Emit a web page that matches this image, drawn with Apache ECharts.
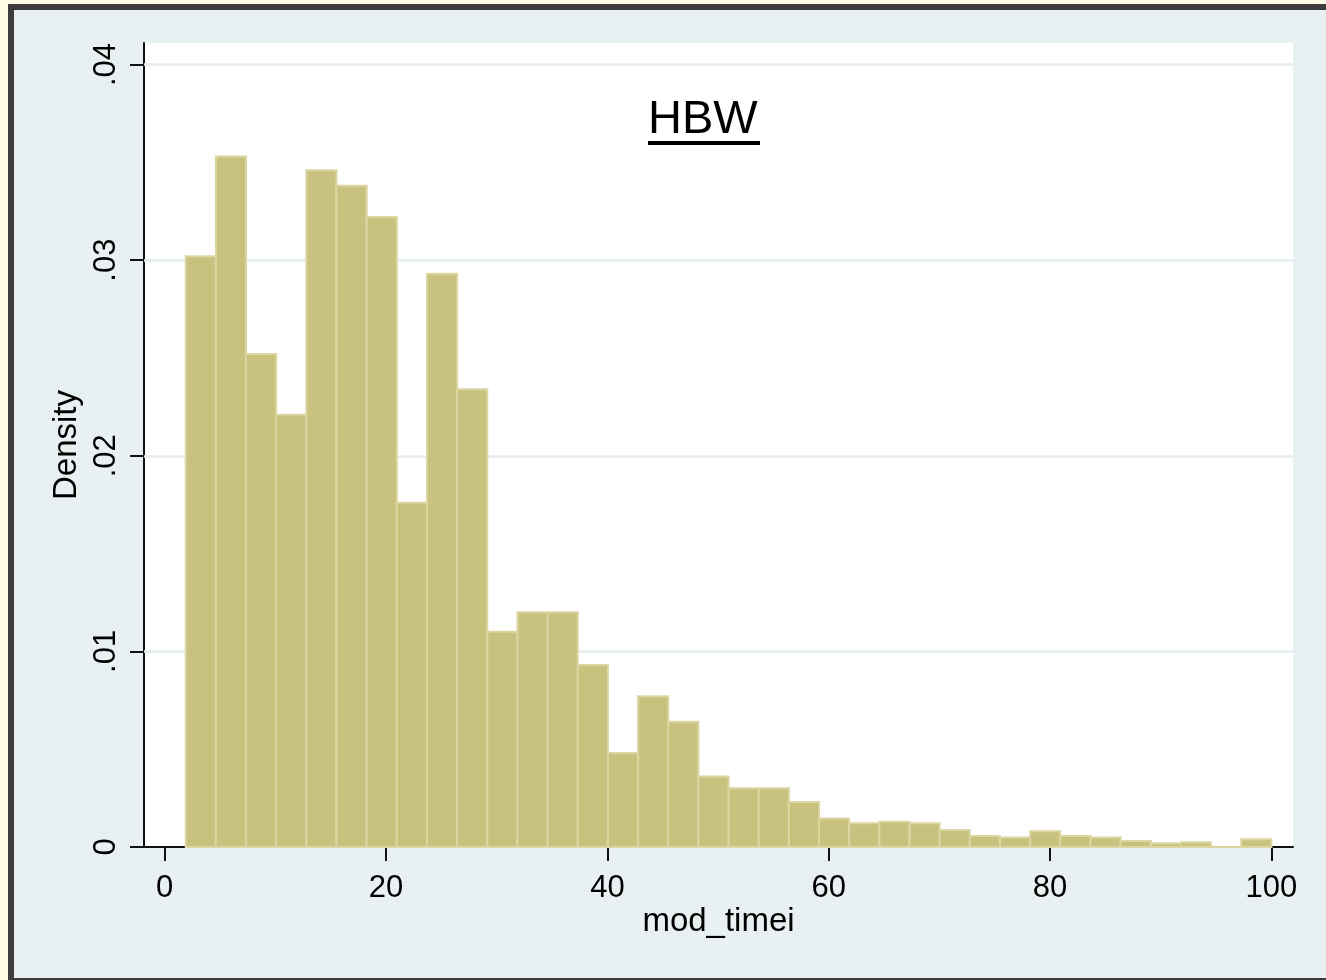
<!DOCTYPE html>
<html>
<head>
<meta charset="utf-8">
<script src="https://cdn.jsdelivr.net/npm/echarts@6/dist/echarts.min.js"></script>
<style>
  html, body { margin: 0; padding: 0; width: 1326px; height: 980px; overflow: hidden; background: #fffde6; }
  #frame { position: absolute; left: 8px; top: 4px; width: 1400px; height: 968px; border: 6px solid #3d3d3d; background: #e8f0f2; }
  #chart { position: absolute; left: 0; top: 0; width: 1326px; height: 980px; }
</style>
</head>
<body>
<div id="frame"></div>
<div id="chart"></div>
<script>
// Bin edges (mod_timei) and histogram densities
const binEdges = [1.9, 4.625, 7.35, 10.075, 12.8, 15.525, 18.25, 20.975, 23.7, 26.425,
  29.15, 31.875, 34.6, 37.325, 40.05, 42.775, 45.5, 48.225, 50.95, 53.675,
  56.4, 59.125, 61.85, 64.575, 67.3, 70.025, 72.75, 75.475, 78.2, 80.925,
  83.65, 86.375, 89.1, 91.825, 94.55, 97.275, 100];
const density = [0.0302, 0.0353, 0.0252, 0.0221, 0.0346, 0.0338, 0.0322, 0.0176, 0.0293, 0.0234,
  0.0110, 0.0120, 0.0120, 0.0093, 0.0048, 0.0077, 0.0064, 0.0036, 0.0030, 0.0030,
  0.0023, 0.00146, 0.00121, 0.00129, 0.00121, 0.00087, 0.00056, 0.00048, 0.00080, 0.00056,
  0.00048, 0.00031, 0.00019, 0.00024, 0, 0.00039];
const xTickValues = [0, 20, 40, 60, 80, 100];
const xTickLabels = ['0', '20', '40', '60', '80', '100'];
const yTickValues = [0, 0.01, 0.02, 0.03, 0.04];
const yTickLabels = ['0', '.01', '.02', '.03', '.04'];
const yGridValues = [0.01, 0.02, 0.03, 0.04];
const titleText = 'HBW';
const xName = 'mod_timei';
const yName = 'Density';

const histData = density.map((v, i) => [binEdges[i], binEdges[i + 1], v]);

const chart = echarts.init(document.getElementById('chart'), null, { renderer: 'canvas' });
const font = 'Liberation Sans, Arial, Helvetica, sans-serif';

chart.setOption({
  animation: false,
  backgroundColor: 'transparent',
  grid: { left: 144, right: 33, top: 43, bottom: 133, show: true, backgroundColor: '#ffffff', borderWidth: 0 },
  xAxis: {
    type: 'value', min: -1.87, max: 101.95,
    name: xName, nameLocation: 'middle', nameGap: 58, nameMoveOverlap: false,
    nameTextStyle: { fontFamily: font, fontSize: 33, color: '#000' },
    axisLine: { show: true, onZero: false, lineStyle: { color: '#111', width: 2 } },
    axisTick: { show: true, length: 14, customValues: xTickValues, lineStyle: { color: '#111', width: 2 } },
    axisLabel: { customValues: xTickValues, margin: 26, fontFamily: font, fontSize: 31, color: '#000',
      formatter: (v) => xTickLabels[xTickValues.indexOf(v)] },
    splitLine: { show: false }
  },
  yAxis: {
    type: 'value', min: 0, max: 0.0411,
    name: yName, nameLocation: 'middle', nameGap: 59, nameRotate: 90,
    nameTextStyle: { fontFamily: font, fontSize: 33, color: '#000' },
    axisLine: { show: true, onZero: false, lineStyle: { color: '#111', width: 2 } },
    axisTick: { show: true, length: 14, customValues: yTickValues, lineStyle: { color: '#111', width: 2 } },
    axisLabel: { customValues: yTickValues, rotate: 90, margin: 22, fontFamily: font, fontSize: 31, color: '#000',
      formatter: (v) => yTickLabels[yTickValues.indexOf(v)] },
    splitLine: { show: false }
  },
  graphic: [
    { type: 'text', left: 648, top: 97, style: { text: titleText, fontFamily: font, fontSize: 47, fill: '#000' }, z: 10 },
    { type: 'rect', shape: { x: 648, y: 141, width: 112, height: 4 }, style: { fill: '#000' }, z: 10 }
  ],
  series: [
    {
      type: 'line', data: [], silent: true,
      markLine: {
        silent: true, symbol: ['none', 'none'], label: { show: false },
        lineStyle: { color: '#e4edf0', width: 2.5, type: 'solid' },
        data: yGridValues.map(v => ({ yAxis: v }))
      },
      z: 1
    },
    {
      type: 'custom', z: 5,
      renderItem: function (params, api) {
        const p0 = api.coord([api.value(0), api.value(2)]);
        const p1 = api.coord([api.value(1), 0]);
        return {
          type: 'rect',
          shape: { x: p0[0], y: p0[1], width: p1[0] - p0[0], height: p1[1] - p0[1] },
          style: { fill: '#c9c27f', stroke: '#dbd6a2', lineWidth: 2 }
        };
      },
      encode: { x: [0, 1], y: 2 },
      data: histData
    }
  ]
});
</script>
</body>
</html>
